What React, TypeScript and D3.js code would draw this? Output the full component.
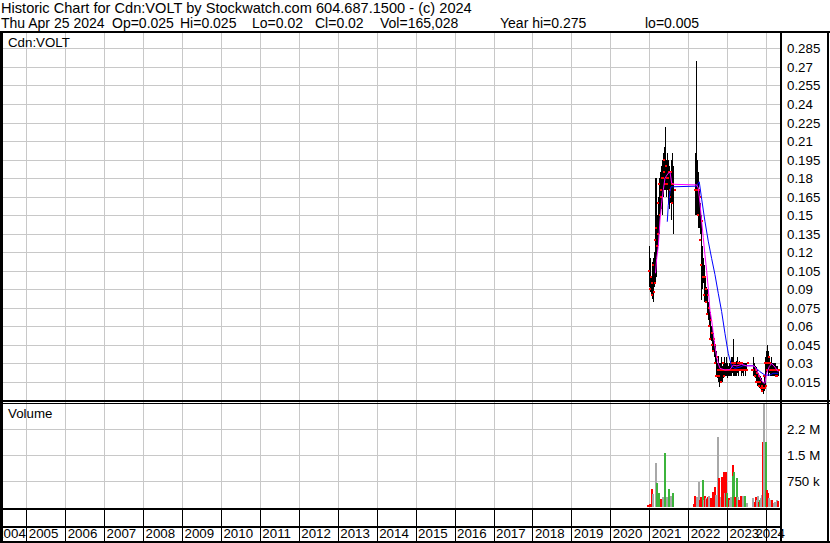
import React from "react";
import * as d3 from "d3";

const TITLE = "Historic Chart for Cdn:VOLT by Stockwatch.com 604.687.1500 - (c) 2024";
const SUBTITLE_FIELDS = ["Thu Apr 25 2024", "Op=0.025", "Hi=0.025", "Lo=0.02", "Cl=0.02", "Vol=165,028", "Year hi=0.275", "lo=0.005"];
const SUBTITLE_X = [1, 112, 180, 252, 315, 380, 500, 645];
const SYMBOL = "Cdn:VOLT";
const VOLUME_TITLE = "Volume";

const YEAR_LABELS = ["2004", "2005", "2006", "2007", "2008", "2009", "2010", "2011", "2012", "2013", "2014", "2015", "2016", "2017", "2018", "2019", "2020", "2021", "2022", "2023", "2024"];
const PRICE_TICKS = [0.015, 0.03, 0.045, 0.06, 0.075, 0.09, 0.105, 0.12, 0.135, 0.15, 0.165, 0.18, 0.195, 0.21, 0.225, 0.24, 0.255, 0.27, 0.285];
const VOLUME_TICKS = [750000, 1500000, 2250000];
const VOLUME_TICK_LABELS = ["750 k", "1.5 M", "2.2 M"];

// weekly price bars, three trading stretches
const SEG_A_START = "2020-12-28";
const SEG_A_HIGH = [0.125, 0.115, 0.110, 0.100, 0.112, 0.115, 0.105, 0.120, 0.180, 0.140, 0.180, 0.150, 0.165, 0.175, 0.180, 0.185, 0.190, 0.192, 0.195, 0.200, 0.205, 0.221, 0.205, 0.195, 0.200, 0.190, 0.195, 0.190, 0.185, 0.195, 0.190, 0.200, 0.190, 0.185];
const SEG_A_LOW = [0.092, 0.094, 0.088, 0.085, 0.082, 0.080, 0.083, 0.092, 0.095, 0.100, 0.110, 0.119, 0.125, 0.135, 0.140, 0.150, 0.155, 0.150, 0.155, 0.165, 0.170, 0.175, 0.170, 0.165, 0.170, 0.160, 0.165, 0.155, 0.160, 0.146, 0.150, 0.160, 0.135, 0.140];
const SEG_A_CLOSE = [0.100, 0.105, 0.095, 0.090, 0.088, 0.085, 0.095, 0.110, 0.125, 0.130, 0.135, 0.140, 0.150, 0.160, 0.165, 0.175, 0.180, 0.170, 0.185, 0.180, 0.190, 0.195, 0.180, 0.175, 0.185, 0.175, 0.170, 0.180, 0.175, 0.165, 0.175, 0.185, 0.170, 0.160];

const SEG_B_START = "2022-03-09";
const SEG_B_HIGH = [0.200, 0.275, 0.195, 0.185, 0.175, 0.170, 0.160, 0.150, 0.133, 0.125, 0.115, 0.110, 0.105, 0.100, 0.092, 0.090, 0.085, 0.080, 0.075, 0.072, 0.065, 0.060, 0.060, 0.055, 0.050, 0.048, 0.045, 0.040, 0.035, 0.030, 0.032, 0.036, 0.030, 0.030, 0.035, 0.030, 0.028, 0.030, 0.035, 0.032, 0.030, 0.035, 0.030, 0.030, 0.028, 0.030, 0.032, 0.030, 0.035, 0.035, 0.050, 0.035, 0.030, 0.030, 0.032, 0.030, 0.035, 0.030, 0.030, 0.032, 0.030, 0.030, 0.030, 0.028, 0.030, 0.030, 0.028, 0.030, 0.030];
const SEG_B_LOW = [0.150, 0.150, 0.150, 0.160, 0.140, 0.140, 0.135, 0.125, 0.081, 0.090, 0.095, 0.085, 0.080, 0.080, 0.079, 0.075, 0.070, 0.065, 0.060, 0.055, 0.050, 0.048, 0.040, 0.042, 0.040, 0.035, 0.030, 0.020, 0.019, 0.018, 0.020, 0.015, 0.011, 0.015, 0.015, 0.020, 0.015, 0.018, 0.020, 0.020, 0.020, 0.020, 0.018, 0.020, 0.020, 0.020, 0.022, 0.020, 0.020, 0.022, 0.025, 0.020, 0.020, 0.020, 0.022, 0.020, 0.022, 0.020, 0.025, 0.025, 0.025, 0.020, 0.025, 0.022, 0.020, 0.025, 0.022, 0.020, 0.025];
const SEG_B_CLOSE = [0.170, 0.170, 0.170, 0.170, 0.165, 0.150, 0.145, 0.130, 0.100, 0.110, 0.100, 0.100, 0.090, 0.085, 0.085, 0.080, 0.075, 0.070, 0.065, 0.060, 0.055, 0.050, 0.050, 0.045, 0.045, 0.040, 0.035, 0.030, 0.025, 0.020, 0.025, 0.020, 0.015, 0.020, 0.025, 0.025, 0.020, 0.025, 0.025, 0.030, 0.025, 0.025, 0.025, 0.025, 0.025, 0.025, 0.025, 0.025, 0.030, 0.030, 0.030, 0.025, 0.025, 0.025, 0.025, 0.025, 0.030, 0.025, 0.030, 0.030, 0.030, 0.025, 0.025, 0.025, 0.025, 0.025, 0.025, 0.025, 0.030];

const SEG_C_START = "2023-08-30";
const SEG_C_HIGH = [0.035, 0.030, 0.028, 0.028, 0.027, 0.025, 0.025, 0.022, 0.020, 0.020, 0.018, 0.018, 0.015, 0.015, 0.015, 0.020, 0.025, 0.035, 0.040, 0.045, 0.040, 0.035, 0.035, 0.030, 0.035, 0.030, 0.030, 0.030, 0.028, 0.030, 0.030, 0.028, 0.025, 0.028, 0.025];
const SEG_C_LOW = [0.020, 0.022, 0.020, 0.018, 0.015, 0.015, 0.012, 0.012, 0.010, 0.010, 0.010, 0.008, 0.008, 0.006, 0.005, 0.008, 0.010, 0.015, 0.020, 0.025, 0.020, 0.020, 0.022, 0.020, 0.025, 0.020, 0.020, 0.020, 0.020, 0.020, 0.020, 0.020, 0.020, 0.020, 0.020];
const SEG_C_CLOSE = [0.025, 0.025, 0.025, 0.022, 0.020, 0.020, 0.015, 0.015, 0.015, 0.012, 0.012, 0.010, 0.010, 0.010, 0.008, 0.012, 0.020, 0.025, 0.030, 0.035, 0.030, 0.025, 0.030, 0.025, 0.030, 0.025, 0.025, 0.025, 0.025, 0.025, 0.025, 0.025, 0.020, 0.025, 0.020];

// moving averages (decimal years)
const MA_FAST_DATES = [2021.159, 2021.190, 2021.231, 2021.275, 2021.318, 2021.360, 2021.403, 2021.488, 2021.532, 2021.575, 2021.621, 2022.217, 2022.258, 2022.302, 2022.346, 2022.387, 2022.430, 2022.474, 2022.515, 2022.559, 2022.602, 2022.644, 2022.687, 2022.731, 2022.772, 2022.816, 2022.944, 2023.072, 2023.157, 2023.252, 2023.373, 2023.501, 2023.671, 2023.714, 2023.799, 2023.869, 2023.928, 2023.971, 2024.015, 2024.082, 2024.143, 2024.228, 2024.313];
const MA_FAST_VALUES = [0.103, 0.115, 0.1245, 0.146, 0.160, 0.1705, 0.180, 0.184, 0.185, 0.176, 0.175, 0.1745, 0.172, 0.160, 0.145, 0.132, 0.118, 0.105, 0.091, 0.073, 0.065, 0.0544, 0.0436, 0.0355, 0.030, 0.026, 0.0247, 0.025, 0.0287, 0.028, 0.0293, 0.028, 0.028, 0.0274, 0.022, 0.017, 0.0144, 0.014, 0.022, 0.0274, 0.030, 0.027, 0.0233];
const MA_SLOW_DATES = [2021.462, 2021.488, 2021.532, 2021.557, 2021.621, 2022.217, 2022.258, 2022.284, 2022.346, 2022.430, 2022.515, 2022.602, 2022.687, 2022.772, 2022.859, 2022.944, 2023.029, 2023.116, 2023.201, 2023.329, 2023.414, 2023.671, 2023.758, 2023.843, 2023.971, 2024.099, 2024.184, 2024.313];
const MA_SLOW_VALUES = [0.1447, 0.158, 0.169, 0.173, 0.173, 0.1735, 0.176, 0.177, 0.163, 0.145, 0.129, 0.115, 0.102, 0.0868, 0.072, 0.0544, 0.0382, 0.0274, 0.026, 0.027, 0.0282, 0.0282, 0.026, 0.0233, 0.0206, 0.0206, 0.022, 0.022];

// volume bars (decimal years), r = down, g = up, k = unchanged
const VOL_DATES = [2020.974, 2021.018, 2021.077, 2021.103, 2021.164, 2021.205, 2021.257, 2021.293, 2021.344, 2021.395, 2021.447, 2021.498, 2021.550, 2021.601,
  2022.148, 2022.174, 2022.199, 2022.233, 2022.277, 2022.302, 2022.328, 2022.372, 2022.405, 2022.430, 2022.464, 2022.490, 2022.515, 2022.541, 2022.577, 2022.602, 2022.644, 2022.687, 2022.721, 2022.757, 2022.782, 2022.798, 2022.834, 2022.859, 2022.885, 2022.900, 2022.918, 2022.944, 2022.970, 2023.003, 2023.039, 2023.072, 2023.106, 2023.142, 2023.157, 2023.175, 2023.209, 2023.245, 2023.286, 2023.311, 2023.347, 2023.398, 2023.432, 2023.457, 2023.501,
  2023.671, 2023.714, 2023.740, 2023.766, 2023.791, 2023.817, 2023.843, 2023.876, 2023.902, 2023.928, 2023.954, 2023.990, 2024.015, 2024.041, 2024.066, 2024.099, 2024.133, 2024.159, 2024.203, 2024.236, 2024.272, 2024.298, 2024.318];
const VOL_VALUES = [60000, 80000, 520000, 380000, 1280000, 683000, 400000, 230000, 300000, 1550000, 300000, 520000, 320000, 394000,
  100000, 317000, 200000, 298000, 731000, 200000, 298000, 779000, 200000, 317000, 250000, 221000, 300000, 317000, 250000, 202000, 442000, 587000, 350000, 2010000, 400000, 827000, 300000, 856000, 500000, 731000, 1020000, 400000, 1020000, 394000, 250000, 202000, 300000, 1210000, 900000, 1020000, 300000, 827000, 298000, 200000, 317000, 317000, 200000, 317000, 106000,
  250000, 150000, 298000, 200000, 317000, 150000, 202000, 250000, 340000, 1880000, 3200000, 1880000, 500000, 394000, 250000, 202000, 150000, 202000, 106000, 150000, 202000, 120000, 165028];
const VOL_COLORS = ["r", "r", "r", "k", "k", "g", "g", "r", "k", "g", "k", "g", "k", "g",
  "r", "r", "r", "k", "k", "r", "r", "g", "k", "r", "k", "r", "r", "k", "r", "r", "r", "r", "k", "k", "r", "r", "k", "r", "r", "r", "r", "k", "r", "g", "r", "k", "k", "r", "g", "g", "r", "g", "k", "r", "r", "k", "k", "g", "k",
  "k", "r", "r", "k", "k", "r", "g", "k", "k", "r", "k", "g", "r", "r", "k", "k", "k", "r", "k", "k", "k", "r", "r"];

const FONT = "'Liberation Sans', Arial, sans-serif";
const FS = 13.3;
const FS_HEAD = 14.6;
const FS_SUB = 14;
const W = 830;
const H = 543;
const PLOT_L = 2;
const PLOT_R = 781;
const PRICE_T = 32;
const PRICE_B = 400;
const VOL_T = 403;
const VOL_B = 508;
const AXIS_MID = 526;
const BOTTOM = 541;

const GRID = "#c8c8c8";
const COLOR_MAP: Record<string, string> = { r: "#ff0000", g: "#3cb43c", k: "#a8a8a8" };

const parse = d3.timeParse("%Y-%m-%d");
function fromDecimalYear(y: number): Date {
  const yr = Math.floor(y);
  const s = new Date(yr, 0, 1).getTime();
  const e = new Date(yr + 1, 0, 1).getTime();
  return new Date(s + (y - yr) * (e - s));
}

interface Bar { date: Date; hi: number; lo: number; cl: number; }
function buildSeg(start: string, hi: number[], lo: number[], cl: number[]): Bar[] {
  const s = parse(start) as Date;
  return hi.map((h, i) => ({ date: d3.timeDay.offset(s, 7 * i), hi: h, lo: lo[i], cl: cl[i] }));
}

export default function App() {
  const x = d3.scaleTime().domain([new Date(2005, 0, 1), new Date(2021, 0, 1)]).range([26.3, 649.3]);
  const yP = d3.scaleLinear().domain([0, 0.285]).range([400.5, 48.4]);
  const yV = d3.scaleLinear().domain([0, 2250000]).range([507, 429]);

  const bars = [
    ...buildSeg(SEG_A_START, SEG_A_HIGH, SEG_A_LOW, SEG_A_CLOSE),
    ...buildSeg(SEG_B_START, SEG_B_HIGH, SEG_B_LOW, SEG_B_CLOSE),
    ...buildSeg(SEG_C_START, SEG_C_HIGH, SEG_C_LOW, SEG_C_CLOSE),
  ];

  const line = d3.line<[number, number]>().x((d) => x(fromDecimalYear(d[0]))).y((d) => yP(d[1]));
  const fastPath = line(MA_FAST_DATES.map((d, i) => [d, MA_FAST_VALUES[i]])) || "";
  const slowPath = line(MA_SLOW_DATES.map((d, i) => [d, MA_SLOW_VALUES[i]])) || "";

  const yearXs = YEAR_LABELS.map((y) => x(new Date(+y, 0, 1)));

  return (
    <svg width={W} height={H} style={{ position: "absolute", left: 0, top: 0, background: "#fff" }} fontFamily={FONT} fontSize={FS}>
      <defs>
        <clipPath id="priceClip"><rect x={PLOT_L} y={PRICE_T} width={PLOT_R - PLOT_L} height={PRICE_B - PRICE_T} /></clipPath>
        <clipPath id="volClip"><rect x={PLOT_L} y={VOL_T} width={PLOT_R - PLOT_L} height={VOL_B - VOL_T} /></clipPath>
      </defs>
      <rect x={0} y={0} width={W} height={H} fill="#fff" />

      {/* header */}
      <text x={1} y={13} fill="#000" fontSize={FS_HEAD} style={{ whiteSpace: "pre" }}>{TITLE}</text>
      {SUBTITLE_FIELDS.map((f, i) => (
        <text key={"sf" + i} x={SUBTITLE_X[i]} y={27.5} fill="#000" fontSize={FS_SUB}>{f}</text>
      ))}

      {/* grids */}
      <g shapeRendering="crispEdges">
        {yearXs.slice(1).map((gx, i) => (
          <line key={"vg" + i} x1={Math.round(gx) + 0.5} x2={Math.round(gx) + 0.5} y1={PRICE_T} y2={VOL_B} stroke={GRID} />
        ))}
        {PRICE_TICKS.map((t) => (
          <line key={"pg" + t} x1={PLOT_L} x2={PLOT_R} y1={Math.round(yP(t)) + 0.5} y2={Math.round(yP(t)) + 0.5} stroke={GRID} />
        ))}
        {VOLUME_TICKS.map((t) => (
          <line key={"vgh" + t} x1={PLOT_L} x2={PLOT_R} y1={Math.round(yV(t)) + 0.5} y2={Math.round(yV(t)) + 0.5} stroke={GRID} />
        ))}
      </g>

      {/* price bars */}
      <g clipPath="url(#priceClip)" shapeRendering="crispEdges">
        {bars.map((b, i) => {
          const bx = Math.round(x(b.date)) + 0.5;
          return <line key={"b" + i} x1={bx} x2={bx} y1={yP(b.hi)} y2={yP(b.lo)} stroke="#000" strokeWidth={1} />;
        })}
        {bars.map((b, i) => {
          const bx = Math.round(x(b.date));
          return <rect key={"c" + i} x={bx + (i % 2 === 0 ? 1 : -2)} y={Math.round(yP(b.cl)) - 1} width={2} height={2} fill="#ff0000" />;
        })}
      </g>
      <g clipPath="url(#priceClip)">
        <path d={slowPath} fill="none" stroke="#0000ff" strokeWidth={1} />
        <path d={fastPath} fill="none" stroke="#ff00ff" strokeWidth={1} />
      </g>

      {/* volume bars */}
      <g clipPath="url(#volClip)" shapeRendering="crispEdges">
        {VOL_DATES.map((d, i) => {
          const vx = Math.round(x(fromDecimalYear(d)));
          const top = yV(VOL_VALUES[i]);
          return <rect key={"v" + i} x={vx - 1} y={top} width={2} height={yV(0) - top} fill={COLOR_MAP[VOL_COLORS[i]]} />;
        })}
      </g>

      {/* frame lines */}
      <g shapeRendering="crispEdges" fill="#000">
        <rect x={0} y={31} width={W} height={2} />
        <rect x={0} y={31} width={3} height={H - 31} />
        <rect x={PLOT_R - 1} y={31} width={2} height={H - 31} />
        <rect x={827} y={31} width={2} height={H - 31} />
        <rect x={0} y={PRICE_B} width={W} height={2} />
        <rect x={0} y={PRICE_B + 3} width={W} height={1} />
        <rect x={0} y={VOL_B} width={PLOT_R} height={2} />
        <rect x={0} y={AXIS_MID} width={PLOT_R} height={2} />
        <rect x={0} y={BOTTOM} width={W} height={2} />
        {yearXs.slice(1).map((gx, i) => (
          <rect key={"yt" + i} x={Math.round(gx)} y={VOL_B} width={1} height={BOTTOM - VOL_B} />
        ))}
      </g>

      {/* panel titles */}
      <text x={8} y={47} fill="#000">{SYMBOL}</text>
      <text x={8} y={418} fill="#000">{VOLUME_TITLE}</text>

      {/* right axis labels */}
      {PRICE_TICKS.map((t) => (
        <text key={"pl" + t} x={787} y={yP(t) + 5} fill="#000">{String(+t.toFixed(3))}</text>
      ))}
      {VOLUME_TICKS.map((t, i) => (
        <text key={"vl" + t} x={787} y={yV(t) + 5} fill="#000">{VOLUME_TICK_LABELS[i]}</text>
      ))}

      {/* year labels */}
      {YEAR_LABELS.map((lab, i) => {
        if (i === 0) {
          return <text key={lab} x={yearXs[1] - 0.5} y={538} textAnchor="end" fill="#000">{lab}</text>;
        }
        if (i === YEAR_LABELS.length - 1) {
          return <text key={lab} x={PLOT_R + 4} y={538} textAnchor="end" fill="#000">{lab}</text>;
        }
        return <text key={lab} x={yearXs[i] + 2.5} y={538} fill="#000">{lab}</text>;
      })}
    </svg>
  );
}
